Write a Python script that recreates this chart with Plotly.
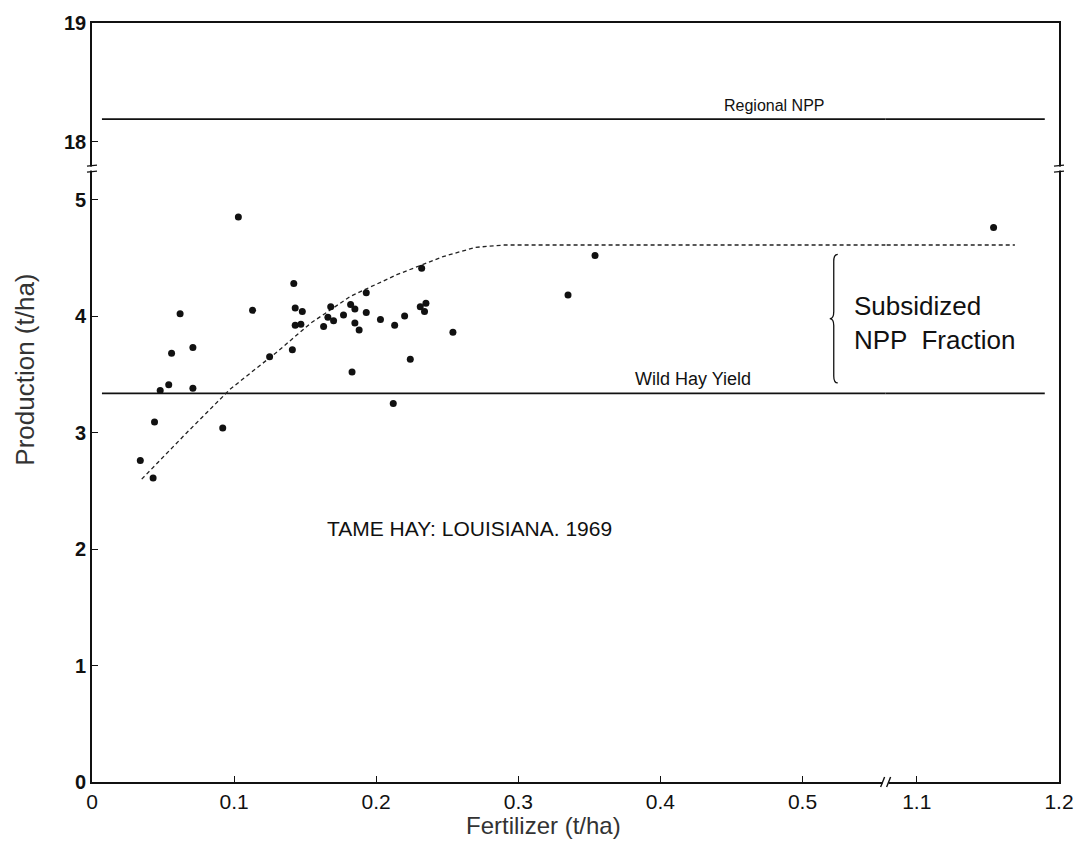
import plotly.graph_objects as go

# ---------------- data ----------------
fertilizer = [0.103, 0.142, 0.232, 0.062, 0.113, 0.143, 0.148, 0.143, 0.147, 0.163,
              0.166, 0.168, 0.170, 0.177, 0.182, 0.185, 0.185, 0.188, 0.193, 0.193,
              0.203, 0.213, 0.220, 0.231, 0.235, 0.234, 0.254, 0.224, 0.183, 0.212,
              0.141, 0.125, 0.071, 0.056, 0.054, 0.048, 0.071, 0.044, 0.092, 0.034,
              0.043, 0.335, 0.354, 1.154]
production = [4.85, 4.28, 4.41, 4.02, 4.05, 4.07, 4.04, 3.92, 3.93, 3.91,
              3.99, 4.08, 3.96, 4.01, 4.10, 4.06, 3.94, 3.88, 4.20, 4.03,
              3.97, 3.92, 4.00, 4.08, 4.11, 4.04, 3.86, 3.63, 3.52, 3.25,
              3.71, 3.65, 3.73, 3.68, 3.41, 3.36, 3.38, 3.09, 3.04, 2.76,
              2.61, 4.18, 4.52, 4.76]

curve_fert = [0.035, 0.066, 0.097, 0.131, 0.154, 0.182, 0.2145, 0.247, 0.270, 0.290, 0.320, 1.169]
curve_prod = [2.60, 2.99, 3.37, 3.70, 3.94, 4.17, 4.355, 4.51, 4.59, 4.61, 4.61, 4.61]

wild_hay_yield = 3.336
regional_npp = 18.19
hline_fert = [0.007, 1.190]

x_ticks_left = [0, 0.1, 0.2, 0.3, 0.4, 0.5]
x_ticks_right = [1.1, 1.2]
y_ticks_low = [0, 1, 2, 3, 4, 5]
y_ticks_high = [18, 19]

# broken-axis segments
x_left_range = [0, 0.5585]
x_right_range = [1.0781, 1.2]
y_low_range = [0, 5.266]
y_high_range = [17.773, 19]
x_split = 0.8207
y_split = 0.8082

FONT = "Liberation Sans, Arial, Helvetica, sans-serif"
INK = "#111111"

fig = go.Figure()

panels_low = [("x", "y", x_left_range), ("x2", "y2", x_right_range)]
panels_high = [("x3", "y3"), ("x4", "y4")]

for xa, ya, rng in panels_low:
    # wild hay yield
    fig.add_trace(go.Scatter(x=hline_fert, y=[wild_hay_yield, wild_hay_yield], mode="lines",
                             line=dict(color=INK, width=1.6), xaxis=xa, yaxis=ya,
                             showlegend=False, hoverinfo="skip"))
    # fitted response curve
    fig.add_trace(go.Scatter(x=curve_fert, y=curve_prod, mode="lines",
                             line=dict(color="#222222", width=1.3, dash="4px,3px"),
                             xaxis=xa, yaxis=ya, showlegend=False, hoverinfo="skip"))
    # observations in this panel
    px = [f for f in fertilizer if rng[0] <= f <= rng[1]]
    py = [p for f, p in zip(fertilizer, production) if rng[0] <= f <= rng[1]]
    fig.add_trace(go.Scatter(x=px, y=py, mode="markers",
                             marker=dict(color=INK, size=7, line=dict(width=0)),
                             xaxis=xa, yaxis=ya, showlegend=False))

for xa, ya in panels_high:
    fig.add_trace(go.Scatter(x=hline_fert, y=[regional_npp, regional_npp], mode="lines",
                             line=dict(color=INK, width=1.6), xaxis=xa, yaxis=ya,
                             showlegend=False, hoverinfo="skip"))

base = dict(showgrid=False, zeroline=False, showline=True, linecolor=INK, linewidth=1.6,
            ticks="inside", ticklen=6, tickwidth=1.3, tickcolor=INK)

def fmt(v):
    return "0" if v == 0 else f"{v:g}"

xtickfont = dict(family=FONT, size=21, color=INK)
ytickfont = dict(family=FONT, size=20, color=INK, weight="bold")

fig.update_layout(
    width=1086, height=843,
    margin=dict(l=92, r=18, t=21, b=61),
    paper_bgcolor="white", plot_bgcolor="white",
    xaxis=dict(base, domain=[0, x_split], range=x_left_range, anchor="y", side="bottom",
               tickvals=x_ticks_left, ticktext=[fmt(v) for v in x_ticks_left], tickfont=xtickfont),
    xaxis2=dict(base, domain=[x_split, 1], range=x_right_range, anchor="y2", side="bottom",
                tickvals=x_ticks_right, ticktext=[fmt(v) for v in x_ticks_right], tickfont=xtickfont),
    xaxis3=dict(base, domain=[0, x_split], range=x_left_range, anchor="y3", side="top",
                ticks="", showticklabels=False),
    xaxis4=dict(base, domain=[x_split, 1], range=x_right_range, anchor="y4", side="top",
                ticks="", showticklabels=False),
    yaxis=dict(base, domain=[0, y_split], range=y_low_range, anchor="x", side="left",
               tickvals=y_ticks_low, ticktext=[str(v) for v in y_ticks_low], tickfont=ytickfont),
    yaxis2=dict(base, domain=[0, y_split], range=y_low_range, anchor="x2", side="right",
                ticks="", showticklabels=False),
    yaxis3=dict(base, domain=[y_split, 1], range=y_high_range, anchor="x3", side="left",
                tickvals=y_ticks_high, ticktext=[str(v) for v in y_ticks_high], tickfont=ytickfont),
    yaxis4=dict(base, domain=[y_split, 1], range=y_high_range, anchor="x4", side="right",
                ticks="", showticklabels=False),
)

# ---------------- text ----------------
fig.add_annotation(x=0.4805, y=regional_npp, xref="x3", yref="y3", text="Regional NPP",
                   showarrow=False, yanchor="bottom", yshift=3,
                   font=dict(family=FONT, size=16, color=INK))
fig.add_annotation(x=0.4227, y=wild_hay_yield, xref="x", yref="y", text="Wild Hay Yield",
                   showarrow=False, yanchor="bottom", yshift=2,
                   font=dict(family=FONT, size=18, color=INK))
fig.add_annotation(x=0.5348, y=3.94, xref="x", yref="y", text="Subsidized<br>NPP  Fraction",
                   showarrow=False, xanchor="left", align="left",
                   font=dict(family=FONT, size=26, color=INK))
fig.add_annotation(x=0.1637, y=2.175, xref="x", yref="y", text="TAME HAY: LOUISIANA. 1969",
                   showarrow=False, xanchor="left", yanchor="middle",
                   font=dict(family=FONT, size=21, color=INK))
fig.add_annotation(x=-0.0697, y=0.5427, xref="paper", yref="paper", text="Production (t/ha)",
                   showarrow=False, textangle=-90, xanchor="center", yanchor="middle",
                   font=dict(family=FONT, size=26, color="#333333"))
fig.add_annotation(x=0.4672, y=-0.0578, xref="paper", yref="paper", text="Fertilizer (t/ha)",
                   showarrow=False, xanchor="center", yanchor="middle",
                   font=dict(family=FONT, size=24, color="#333333"))

# ---------------- brace spanning the subsidized fraction ----------------
top = curve_prod[-1] - 0.08
bot = wild_hay_yield + 0.09
mid = (top + bot) / 2
d = 0.06
brace = (f"M 4,{top} Q 0,{top} 0,{top - d} L 0,{mid + d} Q 0,{mid} -4,{mid} "
         f"Q 0,{mid} 0,{mid - d} L 0,{bot + d} Q 0,{bot} 4,{bot}")
fig.add_shape(type="path", path=brace, xref="x", yref="y", xsizemode="pixel", xanchor=0.522,
              line=dict(color=INK, width=1.3))

# ---------------- axis break marks ----------------
for xa in [0, 1]:
    fig.add_shape(type="rect", xref="paper", yref="paper", xsizemode="pixel", ysizemode="pixel",
                  xanchor=xa, yanchor=y_split, x0=-3, x1=3, y0=-2, y1=2,
                  fillcolor="white", line=dict(width=0), layer="above")
    for off in [-3, 3]:
        fig.add_shape(type="line", xref="paper", yref="paper", xsizemode="pixel", ysizemode="pixel",
                      xanchor=xa, yanchor=y_split, x0=-5, x1=5, y0=off - 0.5, y1=off + 0.5,
                      line=dict(color=INK, width=1.4), layer="above")

fig.add_shape(type="rect", xref="paper", yref="paper", xsizemode="pixel", ysizemode="pixel",
              xanchor=x_split, yanchor=0, x0=-3, x1=3, y0=-2, y1=2,
              fillcolor="white", line=dict(width=0), layer="above")
for off in [-3, 3]:
    fig.add_shape(type="line", xref="paper", yref="paper", xsizemode="pixel", ysizemode="pixel",
                  xanchor=x_split, yanchor=0, x0=off - 2, x1=off + 2, y0=-5, y1=5,
                  line=dict(color=INK, width=1.4), layer="above")

fig.write_html("out.html")
